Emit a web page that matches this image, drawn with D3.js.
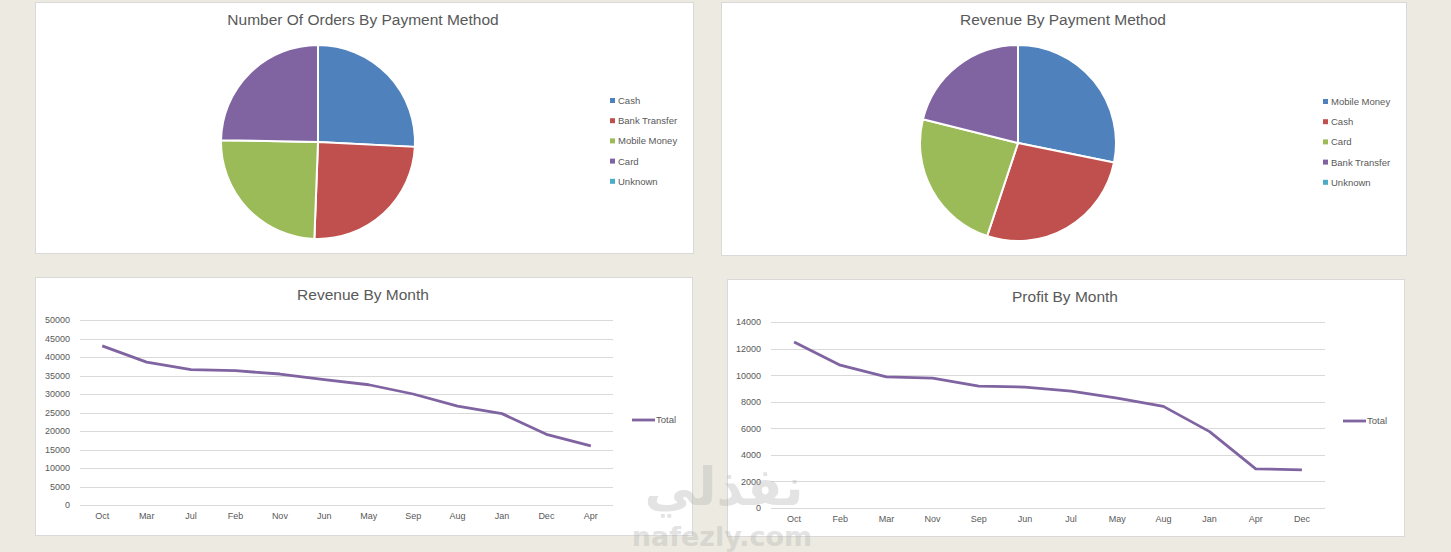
<!DOCTYPE html>
<html>
<head>
<meta charset="utf-8">
<script src="https://cdn.jsdelivr.net/npm/d3@7"></script>
<style>
  body { margin: 0; background: #edebe1; }
  svg { display: block; font-family: "Liberation Sans", Arial, sans-serif; }
</style>
</head>
<body>
<svg id="chart" width="1451" height="552"></svg>
<script>
// pie data
const orderMethods = ["Cash", "Bank Transfer", "Mobile Money", "Card", "Unknown"];
const orderCounts = [258, 248, 247, 247, 0];

const revenueMethods = ["Mobile Money", "Cash", "Card", "Bank Transfer", "Unknown"];
const revenueValues = [105100, 100300, 88700, 78700, 0];

// line data
const revenueMonths = ["Oct", "Mar", "Jul", "Feb", "Nov", "Jun", "May", "Sep", "Aug", "Jan", "Dec", "Apr"];
const revenueTotals = [43000, 38600, 36600, 36300, 35400, 33900, 32500, 30000, 26700, 24700, 19100, 16000];
const revenueTicks = [0, 5000, 10000, 15000, 20000, 25000, 30000, 35000, 40000, 45000, 50000];

const profitMonths = ["Oct", "Feb", "Mar", "Nov", "Sep", "Jun", "Jul", "May", "Aug", "Jan", "Apr", "Dec"];
const profitTotals = [12500, 10750, 9875, 9775, 9175, 9100, 8800, 8275, 7650, 5750, 2950, 2875];
const profitTicks = [0, 2000, 4000, 6000, 8000, 10000, 12000, 14000];

const palette = ["#4f81bd", "#c0504d", "#9bbb59", "#8064a2", "#4bacc6"];
const lineColor = "#8064a2";
const textColor = "#595959";

const svg = d3.select("#chart");

const panel = (x, y, w, h) => {
  svg.append("rect")
    .attr("x", x + 0.5).attr("y", y + 0.5)
    .attr("width", w).attr("height", h)
    .attr("fill", "#fff")
    .attr("stroke", "#d9d9d9");
  return svg.append("g").attr("transform", `translate(${x},${y})`);
};

const title = (g, x, y, text) => {
  g.append("text")
    .attr("x", x).attr("y", y)
    .attr("text-anchor", "middle")
    .attr("font-size", 15.5)
    .attr("fill", textColor)
    .text(text);
};

const drawPie = (opts) => {
  const g = panel(opts.x, opts.y, opts.w, opts.h);
  title(g, opts.titleX, 23, opts.title);

  const pie = d3.pie().sort(null).value((d) => d)(opts.values);
  const arc = d3.arc().innerRadius(0).outerRadius(opts.r);
  const color = d3.scaleOrdinal().domain(opts.labels).range(palette);

  g.append("g")
    .attr("transform", `translate(${opts.cx},${opts.cy})`)
    .selectAll("path")
    .data(pie)
    .join("path")
    .attr("d", arc)
    .attr("fill", (d, i) => color(opts.labels[i]))
    .attr("stroke", "#fff")
    .attr("stroke-width", 2);

  const legend = g.append("g").attr("transform", `translate(${opts.legX},${opts.legY})`);
  const item = legend.selectAll("g")
    .data(opts.labels)
    .join("g")
    .attr("transform", (d, i) => `translate(0,${i * 20.2})`);
  item.append("rect")
    .attr("x", 0).attr("y", -3)
    .attr("width", 5).attr("height", 5)
    .attr("fill", (d) => color(d));
  item.append("text")
    .attr("x", 8).attr("y", 3)
    .attr("font-size", 9.5)
    .attr("fill", textColor)
    .text((d) => d);
};

const drawLine = (opts) => {
  const g = panel(opts.x, opts.y, opts.w, opts.h);
  title(g, opts.titleX, 23, opts.title);

  const x = d3.scaleBand().domain(opts.months).range([opts.left, opts.right]);
  const y = d3.scaleLinear().domain([0, d3.max(opts.ticks)]).range([opts.bottom, opts.top]);

  g.append("g")
    .selectAll("line")
    .data(opts.ticks)
    .join("line")
    .attr("x1", opts.left).attr("x2", opts.right)
    .attr("y1", (d) => Math.round(y(d)) + 0.5)
    .attr("y2", (d) => Math.round(y(d)) + 0.5)
    .attr("stroke", "#d9d9d9");

  const yAxis = g.append("g")
    .attr("transform", `translate(${opts.left - 10},0)`)
    .call(d3.axisLeft(y).tickValues(opts.ticks).tickSize(0).tickPadding(0).tickFormat(d3.format("d")));
  yAxis.select(".domain").remove();
  yAxis.selectAll("text").attr("font-size", 9).attr("fill", textColor).attr("font-family", "inherit");

  const xAxis = g.append("g")
    .attr("transform", `translate(0,${opts.bottom + 8})`)
    .call(d3.axisBottom(x).tickSize(0).tickPadding(0));
  xAxis.select(".domain").remove();
  xAxis.selectAll("text").attr("font-size", 9).attr("fill", textColor).attr("font-family", "inherit");

  const line = d3.line()
    .x((d, i) => x(opts.months[i]) + x.bandwidth() / 2)
    .y((d) => y(d));
  g.append("path")
    .datum(opts.values)
    .attr("d", line)
    .attr("fill", "none")
    .attr("stroke", lineColor)
    .attr("stroke-width", 2.8)
    .attr("stroke-linejoin", "round");

  g.append("line")
    .attr("x1", opts.legX).attr("x2", opts.legX + 23)
    .attr("y1", opts.legY).attr("y2", opts.legY)
    .attr("stroke", lineColor)
    .attr("stroke-width", 2.8);
  g.append("text")
    .attr("x", opts.legX + 24).attr("y", opts.legY + 3)
    .attr("font-size", 9.5)
    .attr("fill", textColor)
    .text("Total");
};

drawPie({
  x: 35, y: 2, w: 658, h: 251,
  title: "Number Of Orders By Payment Method", titleX: 328,
  values: orderCounts, labels: orderMethods,
  cx: 283, cy: 140, r: 97,
  legX: 575, legY: 99
});

drawPie({
  x: 721, y: 2, w: 685, h: 253,
  title: "Revenue By Payment Method", titleX: 342,
  values: revenueValues, labels: revenueMethods,
  cx: 297, cy: 141, r: 98,
  legX: 602, legY: 100
});

drawLine({
  x: 35, y: 277, w: 657, h: 258,
  title: "Revenue By Month", titleX: 328,
  months: revenueMonths, values: revenueTotals, ticks: revenueTicks,
  left: 45, right: 578, top: 43, bottom: 228,
  legX: 597, legY: 143
});

drawLine({
  x: 727, y: 279, w: 677, h: 257,
  title: "Profit By Month", titleX: 338,
  months: profitMonths, values: profitTotals, ticks: profitTicks,
  left: 44, right: 598, top: 43, bottom: 229,
  legX: 616, legY: 142
});

// faint site watermark over the lower middle
const mark = svg.append("g").attr("opacity", 0.35).attr("fill", "#b0b0b0")
  .attr("font-weight", "bold").attr("text-anchor", "middle");
mark.append("text")
  .attr("x", 724).attr("y", 505)
  .attr("font-size", 52)
  .attr("font-family", "DejaVu Sans, sans-serif")
  .text("نفذلي");
mark.append("text")
  .attr("x", 722).attr("y", 546)
  .attr("font-size", 27)
  .attr("font-family", "DejaVu Sans, sans-serif")
  .text("nafezly.com");
</script>
</body>
</html>
